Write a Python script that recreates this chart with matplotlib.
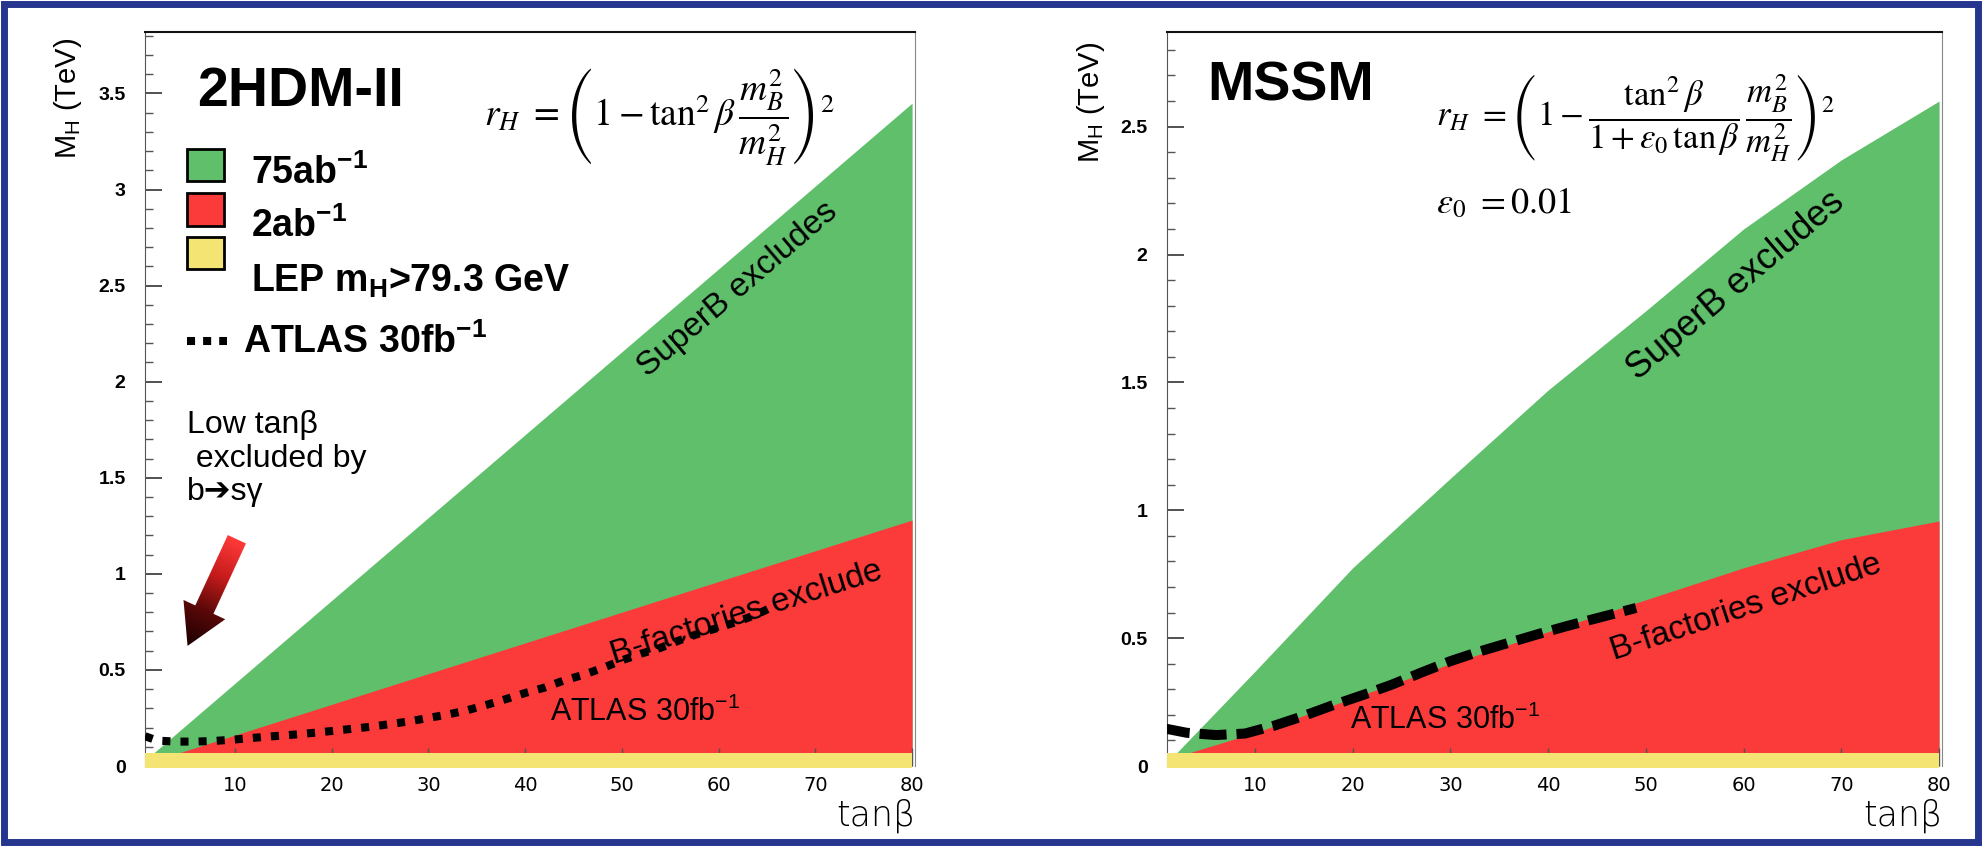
import numpy as np
import matplotlib.pyplot as plt
from matplotlib.patches import Rectangle, Polygon
from matplotlib.ticker import MultipleLocator, FormatStrFormatter
from matplotlib.transforms import IdentityTransform
from matplotlib.colors import LinearSegmentedColormap

plt.rcParams['font.family'] = ['Liberation Sans', 'DejaVu Sans']
plt.rcParams['mathtext.fontset'] = 'custom'
plt.rcParams['mathtext.rm'] = 'Liberation Sans'
plt.rcParams['mathtext.it'] = 'Liberation Sans:italic'
plt.rcParams['mathtext.bf'] = 'Liberation Sans:bold'

## Donnees (tan beta, M_H en TeV)
# 2HDM-II
tb_2hdm_green = [1.6, 80]
mh_2hdm_green = [0.068, 3.45]
tb_2hdm_red = [4.2, 80]
mh_2hdm_red = [0.068, 1.28]
tb_2hdm_atlas = [0.7, 2, 4, 6, 8, 10, 12, 14, 16, 18, 20, 22, 24, 26, 28, 30, 32, 34,
                 36, 38, 40, 42, 44, 46, 48, 50, 52, 54, 56, 58, 60, 62, 64, 66]
mh_2hdm_atlas = [0.155, 0.132, 0.127, 0.127, 0.131, 0.138, 0.147, 0.155, 0.163, 0.172,
                 0.182, 0.193, 0.204, 0.218, 0.232, 0.25, 0.268, 0.29, 0.318, 0.348,
                 0.38, 0.408, 0.445, 0.474, 0.51, 0.55, 0.585, 0.615, 0.655, 0.69,
                 0.72, 0.752, 0.79, 0.839]
lep_2hdm = 0.068

# MSSM
tb_mssm_green = [2.0, 10, 20, 30, 40, 50, 60, 70, 80]
mh_mssm_green = [0.052, 0.37, 0.775, 1.125, 1.47, 1.78, 2.10, 2.37, 2.60]
tb_mssm_red = [3.3, 10, 20, 30, 40, 50, 60, 70, 80]
mh_mssm_red = [0.052, 0.13, 0.265, 0.40, 0.525, 0.65, 0.775, 0.885, 0.958]
tb_mssm_atlas = [0.6, 3, 6, 9, 12, 15, 18, 21, 24, 27, 30, 33, 36, 39, 42, 45, 48, 49]
mh_mssm_atlas = [0.148, 0.13, 0.121, 0.127, 0.158, 0.196, 0.238, 0.277, 0.318, 0.365,
                 0.41, 0.448, 0.482, 0.516, 0.548, 0.578, 0.608, 0.618]
lep_mssm = 0.051

xticks = [10, 20, 30, 40, 50, 60, 70, 80]

VERT = '#5fbf6a'
ROUGE = '#fb3a3a'
JAUNE = '#f3e473'

W, H = 1982, 846
fig = plt.figure(figsize=(W / 100, H / 100), dpi=100)
fig.patch.set_facecolor('white')


def preparer_axes(ax, xlim, ylim, lep):
    ax.set_xlim(*xlim)
    ax.set_ylim(*ylim)
    ax.yaxis.set_major_locator(MultipleLocator(0.5))
    ax.yaxis.set_minor_locator(MultipleLocator(0.1))
    ax.yaxis.set_major_formatter(FormatStrFormatter('%g'))
    ax.set_xticks(xticks)
    ax.set_xticklabels([str(x) for x in xticks])
    ax.tick_params(axis='y', which='major', direction='in', length=12, width=1.2,
                   color='#333333', pad=14, labelsize=14)
    ax.tick_params(axis='y', which='minor', direction='in', length=6, width=1,
                   color='#555555')
    ax.tick_params(axis='x', which='major', direction='in', length=13, width=1,
                   color='#555555', pad=7, labelsize=14)
    for lab in ax.get_yticklabels():
        lab.set_fontweight('bold')
        lab.set_family(['Liberation Sans Narrow', 'Liberation Sans', 'DejaVu Sans'])
    for lab in ax.get_xticklabels():
        lab.set_family(['DejaVu Sans'])
    ax.spines['bottom'].set_visible(False)
    ax.spines['top'].set_color('#111111')
    ax.spines['top'].set_linewidth(1.5)
    ax.spines['left'].set_color('#555555')
    ax.spines['right'].set_color('#888888')
    # bande LEP
    ax.add_patch(Rectangle((xlim[0], -0.01 * ylim[1] / 3), 80 - xlim[0], lep + 0.01 * ylim[1] / 3,
                           facecolor=JAUNE, edgecolor='none', zorder=3, clip_on=False))
    ax.text(1.0, -0.045, 'tan\u03b2', transform=ax.transAxes, ha='right', va='top',
            fontsize=25, fontweight='light', family=['DejaVu Sans'])


def fleche_degradee(ax, queue, pointe):
    p0 = ax.transData.transform(queue)
    p1 = ax.transData.transform(pointe)
    d = p1 - p0
    L = np.hypot(*d)
    u = d / L
    n = np.array([-u[1], u[0]])
    bw, hw, hl = 10, 23, 40
    pts = np.array([p0 + n * bw, p1 - u * hl + n * bw, p1 - u * hl + n * hw, p1,
                    p1 - u * hl - n * hw, p1 - u * hl - n * bw, p0 - n * bw])
    poly = Polygon(pts, closed=True, transform=IdentityTransform(),
                   facecolor='none', edgecolor='none')
    ax.add_patch(poly)
    dp = ax.transData.inverted().transform(pts)
    x0, y0 = dp.min(0)
    x1, y1 = dp.max(0)
    gx, gy = np.meshgrid(np.linspace(x0, x1, 200), np.linspace(y0, y1, 200))
    disp = ax.transData.transform(np.column_stack([gx.ravel(), gy.ravel()]))
    s = ((disp - p0) @ u / L).reshape(gx.shape)
    cmap = LinearSegmentedColormap.from_list('fl', ['#ff3a3a', '#c81c1c', '#5a0808', '#1a0000'])
    xl, yl = ax.get_xlim(), ax.get_ylim()
    im = ax.imshow(s, extent=(x0, x1, y0, y1), origin='lower', cmap=cmap, vmin=0, vmax=1,
                   aspect='auto', zorder=5, interpolation='bilinear')
    im.set_clip_path(poly)
    ax.set_xlim(*xl)
    ax.set_ylim(*yl)


## Panneau 2HDM-II
ax1 = fig.add_axes([145 / W, 1 - 766 / H, 770 / W, 734 / H])
preparer_axes(ax1, (0.7, 80.3), (0, 3.82), lep_2hdm)
ax1.fill_between(tb_2hdm_green, 0, mh_2hdm_green, color=VERT, lw=0, zorder=1)
ax1.fill_between(tb_2hdm_red, 0, mh_2hdm_red, color=ROUGE, lw=0, zorder=1.1)
ax1.plot(tb_2hdm_atlas, mh_2hdm_atlas, color='black', lw=5.8, dashes=(1, 1.25),
         dash_capstyle='butt', zorder=4)

ax1.text(6.1, 3.51, '2HDM-II', fontsize=40, fontweight='bold', va='center', ha='left')
ax1.text(35.7, 3.375, r'$r_H\ =\left(1-\tan^2\beta\,\dfrac{m_B^2}{m_H^2}\right)^2$',
         fontsize=27, va='center', ha='left', math_fontfamily='stix')

# legende
for (y_haut, coul) in [(3.21, VERT), (2.98, ROUGE), (2.755, JAUNE)]:
    ax1.add_patch(Rectangle((5.0, y_haut - 0.168), 3.9, 0.168, facecolor=coul,
                            edgecolor='black', lw=2, zorder=6))
ax1.text(11.7, 3.03, r'75ab$^{\mathbf{-1}}$', fontsize=27, fontweight='bold', va='baseline')
ax1.text(11.7, 2.755, r'2ab$^{\mathbf{-1}}$', fontsize=27, fontweight='bold', va='baseline')
ax1.text(11.7, 2.47, r'LEP m$_{\mathbf{H}}$>79.3 GeV', fontsize=27, fontweight='bold', va='baseline')
ax1.plot([5.0, 9.2], [2.21, 2.21], color='black', lw=5.8, dashes=(1, 1),
         dash_capstyle='butt', zorder=6)
ax1.text(10.8, 2.15, r'ATLAS 30fb$^{\mathbf{-1}}$', fontsize=27, fontweight='bold', va='baseline')

ax1.text(5.0, 1.6, 'Low tan\u03b2\n excluded by\nb\u2794s\u03b3', fontsize=23, va='center',
         ha='left', linespacing=1.15)
fleche_degradee(ax1, (10.2, 1.18), (5.1, 0.625))

ax1.text(62.0, 2.48, 'SuperB excludes', fontsize=24, rotation=40.5, rotation_mode='anchor',
         ha='center', va='center')
ax1.text(62.9, 0.795, 'B-factories exclude', fontsize=24, rotation=17.6, rotation_mode='anchor',
         ha='center', va='center')
ax1.text(52.4, 0.277, r'ATLAS 30fb$^{-1}$', fontsize=22, ha='center', va='center')

## Panneau MSSM
ax2 = fig.add_axes([1167 / W, 1 - 766 / H, 775 / W, 734 / H])
preparer_axes(ax2, (1.0, 80.3), (0, 2.87), lep_mssm)
ax2.fill_between(tb_mssm_green, 0, mh_mssm_green, color=VERT, lw=0, zorder=1)
ax2.fill_between(tb_mssm_red, 0, mh_mssm_red, color=ROUGE, lw=0, zorder=1.1)
ax2.plot(tb_mssm_atlas, mh_mssm_atlas, color='black', lw=7.2, dashes=(2.7, 1.0),
         dash_capstyle='butt', zorder=4)

ax2.text(5.1, 2.657, 'MSSM', fontsize=40, fontweight='bold', va='center', ha='left')
ax2.text(28.5, 2.535,
         r'$r_H\ =\left(1-\dfrac{\tan^2\beta}{1+\varepsilon_0\,\tan\beta}\,\dfrac{m_B^2}{m_H^2}\right)^2$',
         fontsize=25, va='center', ha='left', math_fontfamily='stix')
ax2.text(28.5, 2.2, r'$\varepsilon_0\ =0.01$', fontsize=26, va='center', ha='left',
         math_fontfamily='stix')

ax2.text(59.2, 1.88, 'SuperB excludes', fontsize=26, rotation=40.2, rotation_mode='anchor',
         ha='center', va='center')
ax2.text(60.2, 0.62, 'B-factories exclude', fontsize=24, rotation=18.2, rotation_mode='anchor',
         ha='center', va='center')
ax2.text(29.5, 0.18, r'ATLAS 30fb$^{-1}$', fontsize=22, ha='center', va='center')

# titres des axes y
fig.text(68 / W, 1 - 98 / H, r'M$_{\rm H}$ (TeV)', rotation=90, ha='center', va='center', fontsize=21)
fig.text(1091 / W, 1 - 102 / H, r'M$_{\rm H}$ (TeV)', rotation=90, ha='center', va='center', fontsize=21)

# cadre bleu
fig.patches.append(Rectangle((4 / W, 4 / H), 1 - 8 / W, 1 - 8 / H, transform=fig.transFigure,
                             fill=False, edgecolor='#26368f', linewidth=5))

plt.savefig('out.png', dpi=100)
